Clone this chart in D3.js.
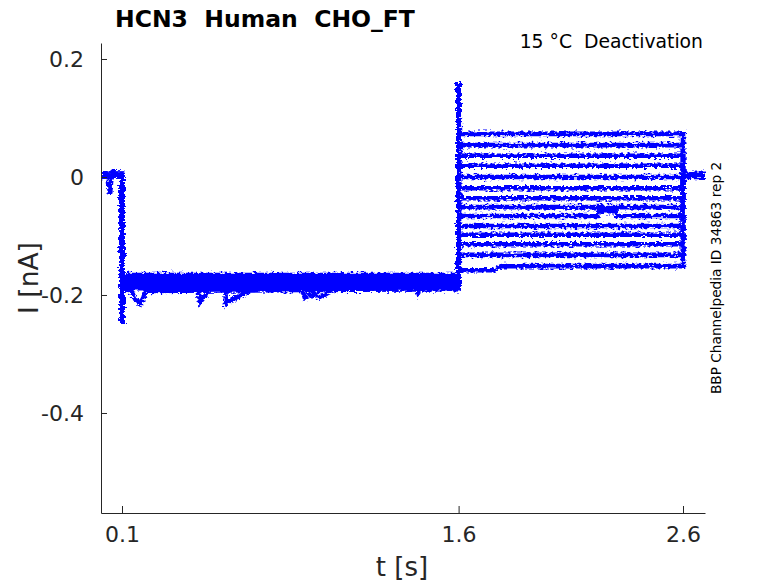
<!DOCTYPE html>
<html>
<head>
<meta charset="utf-8">
<style>
  body { margin: 0; background: #fff; }
  svg { font-family: "DejaVu Sans", sans-serif; }
</style>
</head>
<body>
<div id="chart"></div>
<script src="https://d3js.org/d3.v7.min.js"></script>
<script>
// values (nA, s)
const xTicks = [0.1, 1.6, 2.6];
const yTicks = [0.2, 0, -0.2, -0.4];

const tStart = 0.0064, tPre = 0.1, tStep = 1.6, tEnd = 2.6, tLast = 2.698;

const holdLevels = [0.004, 0.002, 0.005, 0.001, 0.003, 0.006, 0.000, 0.004, 0.002, 0.005, 0.003, 0.001, 0.004, 0.002];
const preLevels  = [-0.170, -0.176, -0.181, -0.168, -0.185, -0.174, -0.188, -0.172, -0.179, -0.166, -0.183, -0.177, -0.190, -0.175];
const stepLevels = [0.073, 0.054, 0.036, 0.019, 0.000, -0.019, -0.036, -0.051, -0.066, -0.083, -0.098, -0.114, -0.132, -0.151];
const tailLevels = [0.002, 0.004, 0.001, 0.003, 0.005, 0.002, 0.000, 0.003, 0.004, 0.001, 0.002, 0.005, 0.003, 0.001];

const preSpike = -0.247;   // capacitive transient at 0.1 s
const stepSpike = 0.161;   // transient at 1.6 s

// local excursions seen in single sweeps: [trace, [[t, I], ...]]
const holdDips = [
  [6, [[0.040, 0.000], [0.0465, -0.030], [0.052, -0.004], [0.060, 0.013], [0.064, 0.002]]]
];
const preDips = [
  [12, [[0.140, -0.192], [0.160, -0.208], [0.180, -0.215], [0.195, -0.205], [0.205, -0.193]]],
  [10, [[0.440, -0.186], [0.448, -0.212], [0.470, -0.202], [0.492, -0.190]]],
  [6,  [[0.560, -0.190], [0.5635, -0.215], [0.600, -0.206], [0.640, -0.199], [0.670, -0.192]]],
  [4,  [[0.900, -0.187], [0.915, -0.205], [0.950, -0.198], [0.985, -0.204], [1.020, -0.196], [1.058, -0.188]]],
  [1,  [[1.410, -0.180], [1.420, -0.195], [1.440, -0.182]]]
];
const stepDips = [
  [8, [[2.22, -0.066], [2.225, -0.058], [2.30, -0.058], [2.305, -0.066]]],
  [13, [[1.601, -0.158], [1.760, -0.158], [1.790, -0.151]]]
];

const width = 778, height = 583;
const margin = { top: 43, right: 73, bottom: 70, left: 101 };
const plotW = width - margin.left - margin.right;
const plotH = height - margin.top - margin.bottom;

const svg = d3.select("#chart").append("svg")
  .attr("width", width)
  .attr("height", height);

// jagged look of the recorded noise
const defs = svg.append("defs");
const flt = defs.append("filter")
  .attr("id", "noise")
  .attr("filterUnits", "userSpaceOnUse")
  .attr("x", 0).attr("y", 0).attr("width", width).attr("height", height);
flt.append("feTurbulence")
  .attr("type", "fractalNoise")
  .attr("baseFrequency", "0.3 0.5")
  .attr("numOctaves", 2)
  .attr("seed", 3)
  .attr("result", "turb");
flt.append("feDisplacementMap")
  .attr("in", "SourceGraphic")
  .attr("in2", "turb")
  .attr("scale", 7)
  .attr("xChannelSelector", "R")
  .attr("yChannelSelector", "G");

const g = svg.append("g")
  .attr("transform", `translate(${margin.left},${margin.top})`);

const x = d3.scaleLinear().domain([tStart, tLast]).range([0, plotW]);
const y = d3.scaleLinear().domain([0.2271, -0.5695]).range([0, plotH]);

function sweep(i) {
  const pick = list => (list.find(d => d[0] === i) || [0, []])[1];
  return [
    [tStart, holdLevels[i]],
    ...pick(holdDips),
    [tPre, holdLevels[i]],
    [tPre, preSpike],
    [tPre + 0.002, preLevels[i]],
    ...pick(preDips),
    [tStep, preLevels[i]],
    [tStep, stepSpike],
    [tStep + 0.001, stepLevels[i]],
    ...pick(stepDips),
    [tEnd, stepLevels[i]],
    [tEnd, tailLevels[i]],
    [tLast, tailLevels[i]]
  ];
}

const line = d3.line().x(d => x(d[0])).y(d => y(d[1]));

const traces = g.append("g").attr("filter", "url(#noise)");
traces.selectAll("path")
  .data(stepLevels.map((_, i) => sweep(i)))
  .join("path")
  .attr("d", line)
  .attr("fill", "none")
  .attr("stroke", "#0000ff")
  .attr("stroke-width", 4.6)
  .attr("stroke-linejoin", "miter");

// axes, MATLAB style with inward ticks
const axisColor = "#262626";
const xAxis = g.append("g")
  .attr("transform", `translate(0,${plotH})`)
  .call(d3.axisBottom(x).tickValues(xTicks).tickFormat(d => String(d))
    .tickSizeInner(-7).tickSizeOuter(0).tickPadding(13));
const yAxis = g.append("g")
  .call(d3.axisLeft(y).tickValues(yTicks).tickFormat(d => String(d))
    .tickSizeInner(-6).tickSizeOuter(0).tickPadding(17));

[xAxis, yAxis].forEach(a => {
  a.select(".domain").attr("stroke", axisColor);
  a.selectAll(".tick line").attr("stroke", axisColor);
  a.selectAll(".tick text")
    .attr("fill", axisColor)
    .style("font-size", "22px")
    .style("font-family", "DejaVu Sans");
});

svg.append("text")
  .attr("x", 115).attr("y", 27)
  .attr("fill", "#000")
  .style("font-size", "23.5px")
  .style("font-weight", "bold")
  .style("white-space", "pre")
  .text("HCN3  Human  CHO_FT");

svg.append("text")
  .attr("x", 703).attr("y", 48)
  .attr("text-anchor", "end")
  .attr("fill", "#000")
  .style("font-size", "18.8px")
  .style("white-space", "pre")
  .text("15 °C  Deactivation");

svg.append("text")
  .attr("x", 402).attr("y", 576)
  .attr("text-anchor", "middle")
  .attr("fill", axisColor)
  .style("font-size", "26px")
  .text("t [s]");

svg.append("text")
  .attr("transform", "translate(38,278) rotate(-90)")
  .attr("text-anchor", "middle")
  .attr("fill", axisColor)
  .style("font-size", "26.5px")
  .text("I [nA]");

svg.append("text")
  .attr("transform", "translate(721,278) rotate(-90)")
  .attr("text-anchor", "middle")
  .attr("fill", "#000")
  .style("font-size", "13.7px")
  .text("BBP Channelpedia ID 34863 rep 2");
</script>
</body>
</html>
